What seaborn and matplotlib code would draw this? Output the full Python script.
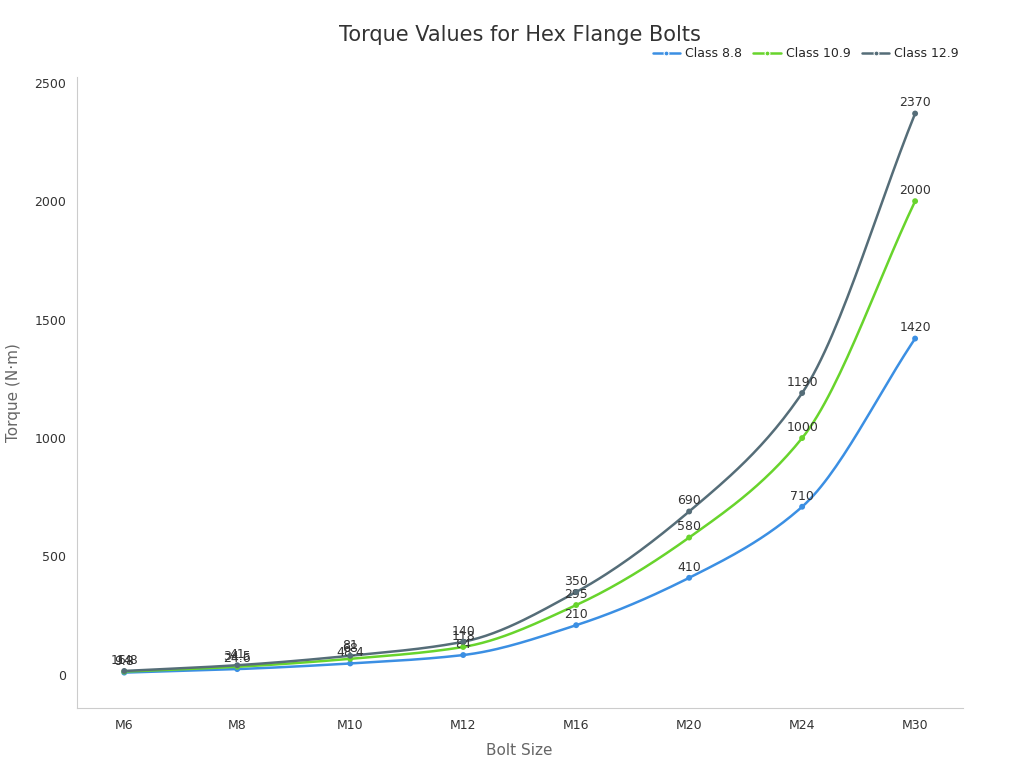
import numpy as np
import pandas as pd
import matplotlib
matplotlib.use("Agg")
import matplotlib.pyplot as plt
import seaborn as sns

sizes = ["M6", "M8", "M10", "M12", "M16", "M20", "M24", "M30"]
class_88 = [9.8, 24.6, 48.4, 84, 210, 410, 710, 1420]
class_109 = [14, 34.5, 68, 118, 295, 580, 1000, 2000]
class_129 = [16.8, 41, 81, 140, 350, 690, 1190, 2370]

series = {"Class 8.8": class_88, "Class 10.9": class_109, "Class 12.9": class_129}
colors = {"Class 8.8": "#3b8fe3", "Class 10.9": "#68d42c", "Class 12.9": "#556d78"}


def monotone(x, y, n=30):
    # Fritsch-Carlson monotone cubic, only used to draw the smooth line
    x = np.asarray(x, float)
    y = np.asarray(y, float)
    h = np.diff(x)
    d = np.diff(y) / h
    m = np.zeros_like(y)
    m[0], m[-1] = d[0], d[-1]
    for i in range(1, len(y) - 1):
        if d[i - 1] * d[i] <= 0:
            m[i] = 0
        else:
            w1 = 2 * h[i] + h[i - 1]
            w2 = h[i] + 2 * h[i - 1]
            m[i] = (w1 + w2) / (w1 / d[i - 1] + w2 / d[i])
    xs, ys = [], []
    for i in range(len(x) - 1):
        t = np.linspace(0, 1, n, endpoint=False)
        h00 = 2 * t**3 - 3 * t**2 + 1
        h10 = t**3 - 2 * t**2 + t
        h01 = -2 * t**3 + 3 * t**2
        h11 = t**3 - t**2
        xs.append(x[i] + t * h[i])
        ys.append(h00 * y[i] + h10 * h[i] * m[i] + h01 * y[i + 1] + h11 * h[i] * m[i + 1])
    xs.append([x[-1]])
    ys.append([y[-1]])
    return np.concatenate(xs), np.concatenate(ys)


sns.set_style("white")
plt.rcParams["font.family"] = ["DejaVu Sans"]

fig, ax = plt.subplots(figsize=(10.24, 7.68), dpi=100)
fig.subplots_adjust(left=0.075, right=0.94, top=0.9, bottom=0.078)

pos = np.arange(len(sizes))
for name, vals in series.items():
    cx, cy = monotone(pos, vals)
    sns.lineplot(x=cx, y=cy, ax=ax, color=colors[name], linewidth=1.8, label=name, sort=False)
    sns.scatterplot(x=pos, y=vals, ax=ax, color=colors[name], s=18, edgecolor="none", legend=False, zorder=3)
    for xi, v in zip(pos, vals):
        ax.annotate(f"{v:g}", (xi, v), xytext=(0, 3), textcoords="offset points",
                    ha="center", va="bottom", fontsize=9, color="#333333")

ax.set_xticks(pos)
ax.set_xticklabels(sizes)
ax.set_xlim(-0.42, 7.42)
ax.set_ylim(-140, 2525)
ax.set_yticks([0, 500, 1000, 1500, 2000, 2500])
ax.tick_params(axis="both", labelsize=9, colors="#333333", length=4, color="#999999")
ax.set_xlabel("Bolt Size", fontsize=11, color="#666666", labelpad=8)
ax.set_ylabel("Torque (N·m)", fontsize=11, color="#666666", labelpad=10)
for s in ["top", "right"]:
    ax.spines[s].set_visible(False)
for s in ["left", "bottom"]:
    ax.spines[s].set_color("#cccccc")

ax.set_title("Torque Values for Hex Flange Bolts", fontsize=15, color="#333333", pad=26)
leg = ax.legend(loc="lower right", bbox_to_anchor=(1.006, 1.012), ncol=3, frameon=False,
                fontsize=9, handlelength=2.2, handletextpad=0.4, columnspacing=0.9, borderaxespad=0.3)
for ln in leg.get_lines():
    ln.set_marker("o")
    ln.set_markersize(3.5)

fig.savefig("out.png", dpi=100)
